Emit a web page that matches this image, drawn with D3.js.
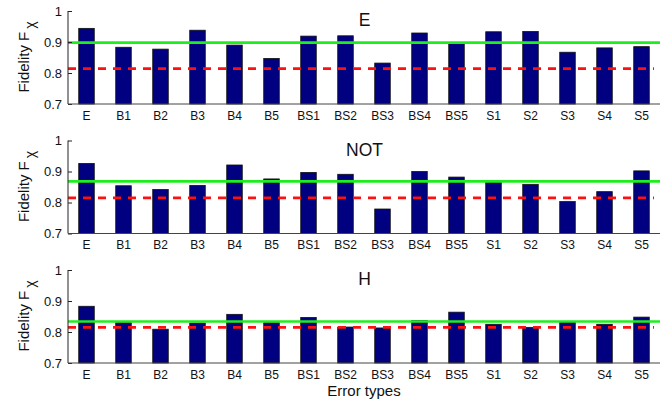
<!DOCTYPE html>
<html><head><meta charset="utf-8">
<script src="https://cdn.jsdelivr.net/npm/d3@7"></script>
<style>body{margin:0;background:#fff}svg{display:block;font-family:"Liberation Sans",Arial,sans-serif}</style>
</head><body>
<script>
const categories = ["E","B1","B2","B3","B4","B5","BS1","BS2","BS3","BS4","BS5","S1","S2","S3","S4","S5"];
const panelTitles = ["E","NOT","H"];
const valuesE   = [0.944,0.883,0.877,0.938,0.890,0.847,0.919,0.920,0.832,0.929,0.895,0.933,0.934,0.867,0.881,0.885];
const valuesNOT = [0.926,0.854,0.842,0.855,0.921,0.876,0.897,0.891,0.779,0.900,0.882,0.866,0.858,0.803,0.835,0.902];
const valuesH   = [0.883,0.830,0.809,0.829,0.857,0.830,0.847,0.816,0.813,0.837,0.864,0.825,0.815,0.833,0.825,0.848];
const greenLevels = [0.898,0.868,0.834];
const redLevels = [0.814,0.815,0.815];
const yTicks = [0.7,0.8,0.9,1];
const yTickLabels = ["0.7","0.8","0.9","1"];
const panels = [valuesE, valuesNOT, valuesH];

const W=667,H=402;
const svg=d3.select("body").append("svg").attr("width",W).attr("height",H);
const left=68,right=660,ph=93;
const tops=[11,140.5,270];
const x=d3.scaleBand().domain(categories).range([left,right]).paddingInner(0.58).paddingOuter(0.29);

panels.forEach((vals,i)=>{
  const top=tops[i];
  const y=d3.scaleLinear().domain([0.7,1]).range([top+ph,top]);
  const g=svg.append("g");
  g.selectAll("rect.bar").data(vals).enter().append("rect")
    .attr("x",(d,j)=>x(categories[j]))
    .attr("width",x.bandwidth())
    .attr("y",d=>y(d))
    .attr("height",d=>y(0.7)-y(d))
    .attr("fill","#000080").attr("stroke","#111").attr("stroke-width",0.8);
  g.append("line").attr("x1",left).attr("x2",right)
    .attr("y1",y(greenLevels[i])).attr("y2",y(greenLevels[i]))
    .attr("stroke","#1eee1e").attr("stroke-width",2.6);
  g.append("line").attr("x1",left).attr("x2",right-6)
    .attr("y1",y(redLevels[i])).attr("y2",y(redLevels[i]))
    .attr("stroke","#ff1010").attr("stroke-width",2.6).attr("stroke-dasharray","8,7");
  const ya=d3.axisLeft(y).tickValues(yTicks).tickFormat((d,k)=>yTickLabels[k]).tickSize(-4).tickPadding(6);
  const yg=g.append("g").attr("transform",`translate(${left},0)`).call(ya);
  yg.select(".domain").attr("stroke","#222").attr("d",`M-0,${top}V${top+ph}`);
  yg.selectAll(".tick line").attr("stroke","#222");
  yg.selectAll("text").attr("font-size",13).attr("fill","#111").attr("font-family","Liberation Sans, Arial, sans-serif");
  const xa=d3.axisBottom(x).tickSize(0).tickPadding(7);
  const xg=g.append("g").attr("transform",`translate(0,${top+ph})`).call(xa);
  xg.select(".domain").attr("stroke","#444").attr("d",`M${left},0H${right}`);
  xg.selectAll("text").attr("font-size",12).attr("fill","#111").attr("font-family","Liberation Sans, Arial, sans-serif");
  g.append("text").attr("x",364.5).attr("y",top+15).attr("text-anchor","middle")
    .attr("font-size",17.5).attr("fill","#111").text(panelTitles[i]);
  const yl=g.append("text").attr("transform",`translate(28.5,${top+46}) rotate(-90)`)
    .attr("text-anchor","middle").attr("font-size",15).attr("fill","#111");
  yl.append("tspan").text("Fidelity F");
  yl.append("tspan").attr("dy",6).attr("dx",3).attr("font-size",14).text("χ");
});
svg.append("text").attr("x",364).attr("y",396).attr("text-anchor","middle")
  .attr("font-size",15).attr("fill","#111").text("Error types");
</script>
</body></html>
